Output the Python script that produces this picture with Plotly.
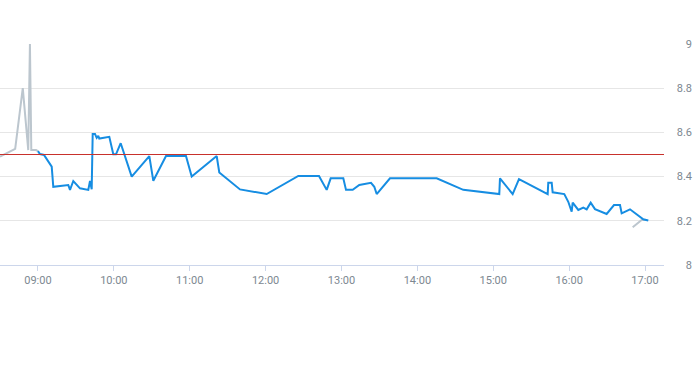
import plotly.graph_objects as go

DAY = "2024-01-02 "

pre_times = ["08:30:00", "08:42:00", "08:48:00", "08:52:20", "08:53:40", "08:54:45", "08:58:30", "09:00:00"]
pre_values = [8.49, 8.525, 8.80, 8.52, 9.0, 8.52, 8.52, 8.515]

session_times = [
    "09:00:00", "09:01:38", "09:04:47", "09:10:53", "09:12:08", "09:24:00", "09:25:21", "09:27:57",
    "09:33:15", "09:38:33", "09:39:48", "09:41:10", "09:42:30", "09:43:17", "09:45:06", "09:46:27",
    "09:47:43", "09:48:30", "09:56:25", "09:59:35", "10:01:43", "10:05:26", "10:14:08", "10:28:03",
    "10:31:13", "10:41:15", "10:57:03", "11:01:34", "11:21:20", "11:23:23", "11:39:45", "12:00:51",
    "12:25:51", "12:42:13", "12:48:18", "12:51:28", "13:01:26", "13:03:34", "13:08:52", "13:14:05",
    "13:23:20", "13:25:56", "13:27:50", "13:38:21", "14:15:16", "14:36:18", "15:04:46", "15:05:19",
    "15:15:21", "15:20:20", "15:43:02", "15:43:30", "15:46:12", "15:46:58", "15:56:10", "15:59:19",
    "16:02:00", "16:02:48", "16:07:14", "16:11:10", "16:13:52", "16:17:02", "16:20:26", "16:29:40",
    "16:35:28", "16:40:12", "16:41:32", "16:48:06", "16:58:37", "17:02:35",
]
session_values = [
    8.515, 8.502, 8.498, 8.445, 8.354, 8.362, 8.34, 8.38,
    8.347, 8.34, 8.34, 8.38, 8.343, 8.593, 8.593, 8.575,
    8.584, 8.572, 8.58, 8.501, 8.501, 8.551, 8.40, 8.493,
    8.381, 8.493, 8.493, 8.40, 8.493, 8.419, 8.342, 8.321,
    8.403, 8.403, 8.34, 8.392, 8.392, 8.34, 8.34, 8.362,
    8.372, 8.354, 8.321, 8.392, 8.392, 8.34, 8.321, 8.392,
    8.321, 8.389, 8.321, 8.372, 8.372, 8.329, 8.321, 8.286,
    8.241, 8.282, 8.249, 8.26, 8.252, 8.282, 8.253, 8.231,
    8.271, 8.271, 8.234, 8.252, 8.207, 8.201,
]

post_times = ["16:50:14", "16:53:24", "16:57:20", "17:01:18"]
post_values = [8.171, 8.186, 8.204, 8.204]

reference_level = 8.5
y_ticks = [8, 8.2, 8.4, 8.6, 8.8, 9]
y_tick_labels = ["8", "8.2", "8.4", "8.6", "8.8", "9"]

x_start, x_end = "08:30:00", "17:15:00"

fig = go.Figure()
fig.add_trace(go.Scatter(x=[DAY + t for t in pre_times], y=pre_values, mode="lines",
                         line=dict(color="#bcc6ce", width=2), hoverinfo="skip"))
fig.add_trace(go.Scatter(x=[DAY + t for t in post_times], y=post_values, mode="lines",
                         line=dict(color="#bcc6ce", width=2), hoverinfo="skip"))
fig.add_trace(go.Scatter(x=[DAY + t for t in session_times], y=session_values, mode="lines",
                         line=dict(color="#168de2", width=2)))
fig.add_trace(go.Scatter(x=[DAY + x_start, DAY + x_end], y=[reference_level, reference_level],
                         mode="lines", line=dict(color="#c8312c", width=1), hoverinfo="skip"))

fig.update_layout(
    width=693, height=365,
    margin=dict(l=0, r=1, t=44, b=100),
    paper_bgcolor="white", plot_bgcolor="white",
    showlegend=False,
    font=dict(family="Roboto", size=11, color="#7d8891"),
    xaxis=dict(
        domain=[0, 664 / 692],
        type="date",
        range=[DAY + x_start, DAY + x_end],
        tick0=DAY + "09:00:00", dtick=3600000,
        tickformat="%H:%M",
        showgrid=False, zeroline=False,
        showline=True, linecolor="#ccd6eb", linewidth=1,
        ticks="outside", ticklen=5, tickcolor="#ccd6eb",
        tickfont=dict(size=11, color="#7d8891"),
        automargin=False,
    ),
    yaxis=dict(
        anchor="free", position=1, side="left",
        range=[8, 9],
        tickvals=y_ticks, ticktext=y_tick_labels,
        showgrid=True, gridcolor="#e6e6e6", gridwidth=1,
        zeroline=False, showline=False, ticks="",
        tickfont=dict(size=11, color="#7d8891"),
        automargin=False,
    ),
)

fig.write_html("out.html", config={"displayModeBar": False},
               post_script="document.body.style.margin='0px';")
